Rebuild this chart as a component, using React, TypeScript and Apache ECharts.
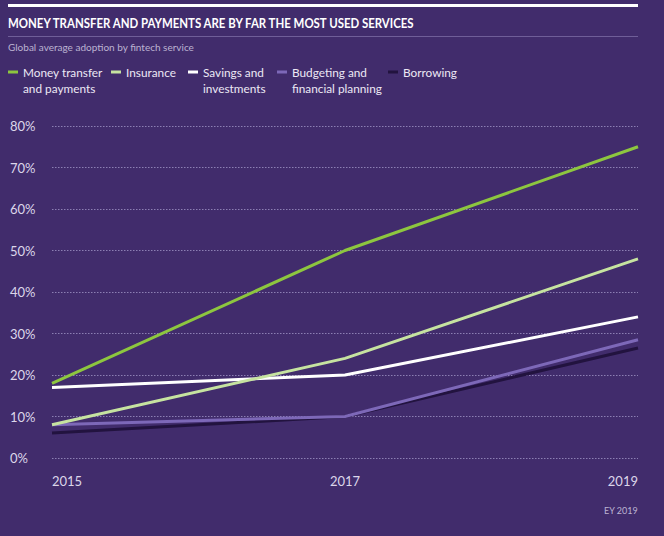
import React, { useEffect, useRef } from "react";
import * as echarts from "echarts";

const years = ["2015", "2017", "2019"];
const moneyTransfer = [18, 50, 75];
const insurance = [8, 24, 48];
const savings = [17, 20, 34];
const budgeting = [8, 10, 28.5];
const borrowing = [6, 10, 26.5];

const seriesNames = [
  "Money transfer\nand payments",
  "Insurance",
  "Savings and\ninvestments",
  "Budgeting and\nfinancial planning",
  "Borrowing",
];
const seriesColors = ["#8dc63f", "#c6e3a0", "#ffffff", "#7d68b8", "#22133f"];
const legendLefts = [8, 111, 188, 277, 388];

const titleText = "MONEY TRANSFER AND PAYMENTS ARE BY FAR THE MOST USED SERVICES";
const subtitleText = "Global average adoption by fintech service";
const sourceText = "EY 2019";

const FONT = "Lato, 'Open Sans', sans-serif";

export default function App() {
  const ref = useRef<HTMLDivElement>(null);
  useEffect(() => {
    if (!ref.current) return;
    const chart = echarts.init(ref.current, null, { renderer: "svg" });
    const data = [moneyTransfer, insurance, savings, budgeting, borrowing];
    const zs = [10, 9, 8, 7, 6];
    const series = data.map((d, i) => ({
      name: seriesNames[i],
      type: "line",
      data: d,
      symbol: "none",
      z: zs[i],
      lineStyle: { width: 3, color: seriesColors[i] },
      itemStyle: { color: seriesColors[i] },
    }));
    const legends = seriesNames.map((n, i) => {
      const twoLine = n.includes("\n");
      return {
        data: [n],
        left: legendLefts[i],
        top: 64,
        itemWidth: 10,
        itemHeight: twoLine ? 19 : 3,
        itemGap: 4,
        icon: twoLine ? "path://M0,0H10V3H0Z M0,18.99H10V19H0Z" : "rect",
        symbolKeepAspect: false,
        selectedMode: false,
        padding: 0,
        textStyle: {
          color: "#ece8f4",
          fontSize: 11.8,
          fontFamily: FONT,
          lineHeight: 16,
        },
      };
    });
    chart.setOption({
      animation: false,
      backgroundColor: "#412c6c",
      legend: legends,
      grid: { left: 52, right: 26, top: 126, bottom: 78 },
      xAxis: {
        type: "category",
        data: years,
        boundaryGap: false,
        axisLine: { show: false },
        axisTick: { show: false },
        axisLabel: {
          color: "#dcd6ea",
          fontSize: 13,
          fontFamily: FONT,
          margin: 16,
          alignMinLabel: "left",
          alignMaxLabel: "right",
        },
      },
      yAxis: {
        type: "value",
        min: 0,
        max: 80,
        interval: 10,
        axisLine: { show: false },
        axisTick: { show: false },
        axisLabel: {
          formatter: "{value}%",
          color: "#dcd6ea",
          fontSize: 13,
          fontFamily: FONT,
          align: "left",
          margin: 42,
        },
        splitLine: {
          lineStyle: { color: "#8c7fb3", type: [1.5, 1.5], width: 1 },
        },
      },
      graphic: [
        {
          type: "rect",
          shape: { x: 8, y: 4, width: 630, height: 3 },
          style: { fill: "#ffffff" },
        },
        {
          type: "text",
          x: 8,
          y: 16,
          scaleX: 0.817,
          style: {
            text: titleText,
            fill: "#ffffff",
            fontSize: 14,
            fontWeight: "bold",
            fontFamily: FONT,
          },
        },
        {
          type: "rect",
          shape: { x: 8, y: 36, width: 630, height: 1 },
          style: { fill: "#6f5e98" },
        },
        {
          type: "text",
          x: 8,
          y: 42,
          style: {
            text: subtitleText,
            fill: "#bcb3d2",
            fontSize: 10,
            fontFamily: FONT,
          },
        },
        {
          type: "text",
          right: 26,
          top: 506,
          style: {
            text: sourceText,
            fill: "#bcb3d2",
            fontSize: 9,
            fontFamily: FONT,
          },
        },
      ],
      series,
    });
    return () => chart.dispose();
  }, []);
  return <div ref={ref} style={{ width: 664, height: 536, position: "absolute", left: 0, top: 0 }} />;
}
